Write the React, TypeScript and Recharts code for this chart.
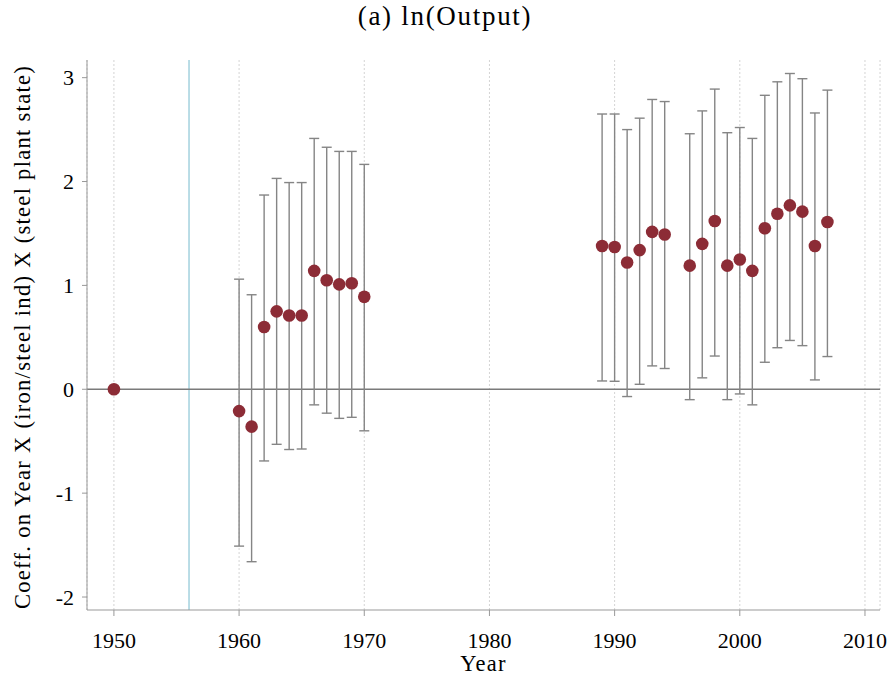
import React from 'react';
import {
  ScatterChart,
  Scatter,
  XAxis,
  YAxis,
  CartesianGrid,
  ErrorBar,
  ReferenceLine,
} from 'recharts';

// event-study coefficients
const years = [
  1950, 1960, 1961, 1962, 1963, 1964, 1965, 1966, 1967, 1968, 1969, 1970,
  1989, 1990, 1991, 1992, 1993, 1994, 1996, 1997, 1998, 1999, 2000, 2001,
  2002, 2003, 2004, 2005, 2006, 2007,
];
const coefs = [
  0, -0.21, -0.36, 0.6, 0.75, 0.71, 0.71, 1.14, 1.05, 1.01, 1.02, 0.89,
  1.38, 1.37, 1.22, 1.34, 1.515, 1.49, 1.19, 1.4, 1.62, 1.19, 1.25, 1.14,
  1.55, 1.69, 1.77, 1.71, 1.38, 1.61,
];
const upper = [
  0, 1.06, 0.91, 1.87, 2.03, 1.99, 1.99, 2.415, 2.33, 2.29, 2.29, 2.165,
  2.65, 2.65, 2.5, 2.61, 2.79, 2.77, 2.46, 2.68, 2.89, 2.47, 2.52, 2.415,
  2.83, 2.96, 3.04, 2.99, 2.66, 2.88,
];
const lower = [
  0, -1.51, -1.66, -0.69, -0.53, -0.58, -0.575, -0.15, -0.23, -0.28, -0.27, -0.4,
  0.08, 0.077, -0.07, 0.048, 0.225, 0.2, -0.1, 0.11, 0.32, -0.1, -0.045, -0.15,
  0.26, 0.4, 0.47, 0.42, 0.09, 0.315,
];
const xTicks = [1950, 1960, 1970, 1980, 1990, 2000, 2010];
const yTicks = [-2, -1, 0, 1, 2, 3];
const treatYear = 1956;

const rows = years.map((y, i) => ({
  year: y,
  coef: coefs[i],
  err: [coefs[i] - lower[i], upper[i] - coefs[i]],
}));

const FONT = '"Liberation Serif", "Times New Roman", serif';

const Dot = (props: any) => (
  <circle cx={props.cx} cy={props.cy} r={6.3} fill="#8c2c36" />
);

const YLabel = (props: any) => {
  const vb = props.viewBox;
  const cy = vb.y + vb.height / 2 + 2;
  return (
    <text
      x={22}
      y={cy}
      transform={`rotate(-90, 22, ${cy})`}
      textAnchor="middle"
      dominantBaseline="central"
      fontFamily={FONT}
      fontSize={22.5}
      letterSpacing={1.3}
      fill="#000"
    >
      Coeff. on Year X (iron/steel ind) X (steel plant state)
    </text>
  );
};

export default function App() {
  return (
    <div style={{ position: 'absolute', left: 0, top: 0, width: 892, height: 683, background: '#fff' }}>
      <div
        style={{
          position: 'absolute',
          left: 0,
          width: 890,
          top: 1,
          textAlign: 'center',
          fontFamily: FONT,
          fontSize: 27,
          letterSpacing: 1.7,
          color: '#000',
        }}
      >
        (a) ln(Output)
      </div>
      <ScatterChart
        width={892}
        height={683}
        margin={{ top: 60, right: 12, bottom: 0, left: 0 }}
        data={rows}
      >
        <CartesianGrid
          horizontal={false}
          stroke="#d4d4d4"
          strokeDasharray="2 2"
        />
        <XAxis
          type="number"
          dataKey="year"
          domain={[1947.85, 2011.2]}
          ticks={xTicks}
          allowDataOverflow
          height={73}
          stroke="#999"
          tickSize={6}
          tickMargin={16}
          tick={{ fill: '#000', fontFamily: FONT, fontSize: 22 }}
          label={{
            value: 'Year',
            position: 'insideBottom',
            offset: 12,
            fill: '#000',
            fontFamily: FONT,
            fontSize: 22.5,
            letterSpacing: 1.2,
          }}
        />
        <YAxis
          type="number"
          dataKey="coef"
          domain={[-2.125, 3.17]}
          ticks={yTicks}
          allowDataOverflow
          width={87}
          stroke="#999"
          tickSize={5}
          tickMargin={8}
          tick={{ fill: '#000', fontFamily: FONT, fontSize: 22 }}
          label={<YLabel />}
        />
        <ReferenceLine x={treatYear} stroke="#a9d4e0" strokeWidth={1.6} />
        <ReferenceLine y={0} stroke="#7a7a7a" strokeWidth={1.5} />
        <Scatter data={rows} dataKey="coef" shape={<Dot />} isAnimationActive={false}>
          <ErrorBar
            dataKey="err"
            direction="y"
            width={5}
            stroke="#858585"
            strokeWidth={1.4}
            isAnimationActive={false}
          />
        </Scatter>
      </ScatterChart>
    </div>
  );
}
